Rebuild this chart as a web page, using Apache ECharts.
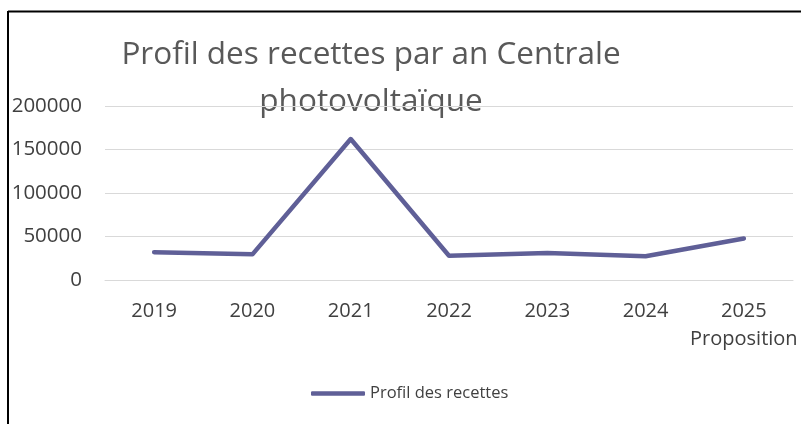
<!DOCTYPE html>
<html><head><meta charset="utf-8">
<script src="https://cdn.jsdelivr.net/npm/echarts@6/dist/echarts.min.js"></script>
<style>html,body{margin:0;padding:0;background:#fff}#c{width:801px;height:424px}</style>
</head><body><div id="c"></div>
<script>
const categories = ['2019','2020','2021','2022','2023','2024','2025\nProposition'];
const values = [32000, 29500, 162000, 27800, 31000, 27200, 47800];
const yTicks = [0, 50000, 100000, 150000, 200000];
const seriesName = 'Profil des recettes';
const titleLines = ['Profil des recettes par an Centrale', 'photovoltaïque'];

const FONT = '"Open Sans", sans-serif';
const chart = echarts.init(document.getElementById('c'));
chart.setOption({
  animation: false,
  grid: {left: 105, right: 8, top: 106, bottom: 144},
  graphic: [
    {type: 'line', shape: {x1: 8, y1: 11, x2: 8, y2: 424}, style: {stroke: '#000', lineWidth: 2}},
    {type: 'line', shape: {x1: 8, y1: 11.5, x2: 801, y2: 11.5}, style: {stroke: '#000', lineWidth: 2}},
    {type: 'text', x: 371, y: 32, style: {text: titleLines.join('\n'), fill: '#595959', font: '31.5px ' + FONT, textAlign: 'center', lineHeight: 47}}
  ],
  legend: {
    data: [seriesName], left: 306, top: 380, itemWidth: 54, itemHeight: 4.5, icon: 'roundRect', itemGap: 5,
    textStyle: {color: '#404040', fontSize: 16.5, fontFamily: FONT}
  },
  xAxis: {
    type: 'category', data: categories, boundaryGap: true,
    axisLine: {lineStyle: {color: '#d9d9d9'}}, axisTick: {show: false},
    axisLabel: {color: '#404040', fontSize: 20, fontFamily: FONT, margin: 17, lineHeight: 28, interval: 0}
  },
  yAxis: {
    type: 'value', min: yTicks[0], max: yTicks[yTicks.length-1], interval: yTicks[1]-yTicks[0],
    axisLine: {show: false}, axisTick: {show: false},
    splitLine: {lineStyle: {color: '#d9d9d9'}},
    axisLabel: {color: '#404040', fontSize: 20.5, fontFamily: FONT, margin: 23, formatter: v => String(v)}
  },
  series: [{
    name: seriesName, type: 'line', data: values, symbol: 'none',
    lineStyle: {color: '#5f5f97', width: 4.5, join: 'round', cap: 'round'},
    itemStyle: {color: '#5f5f97'}
  }]
});
</script></body></html>
